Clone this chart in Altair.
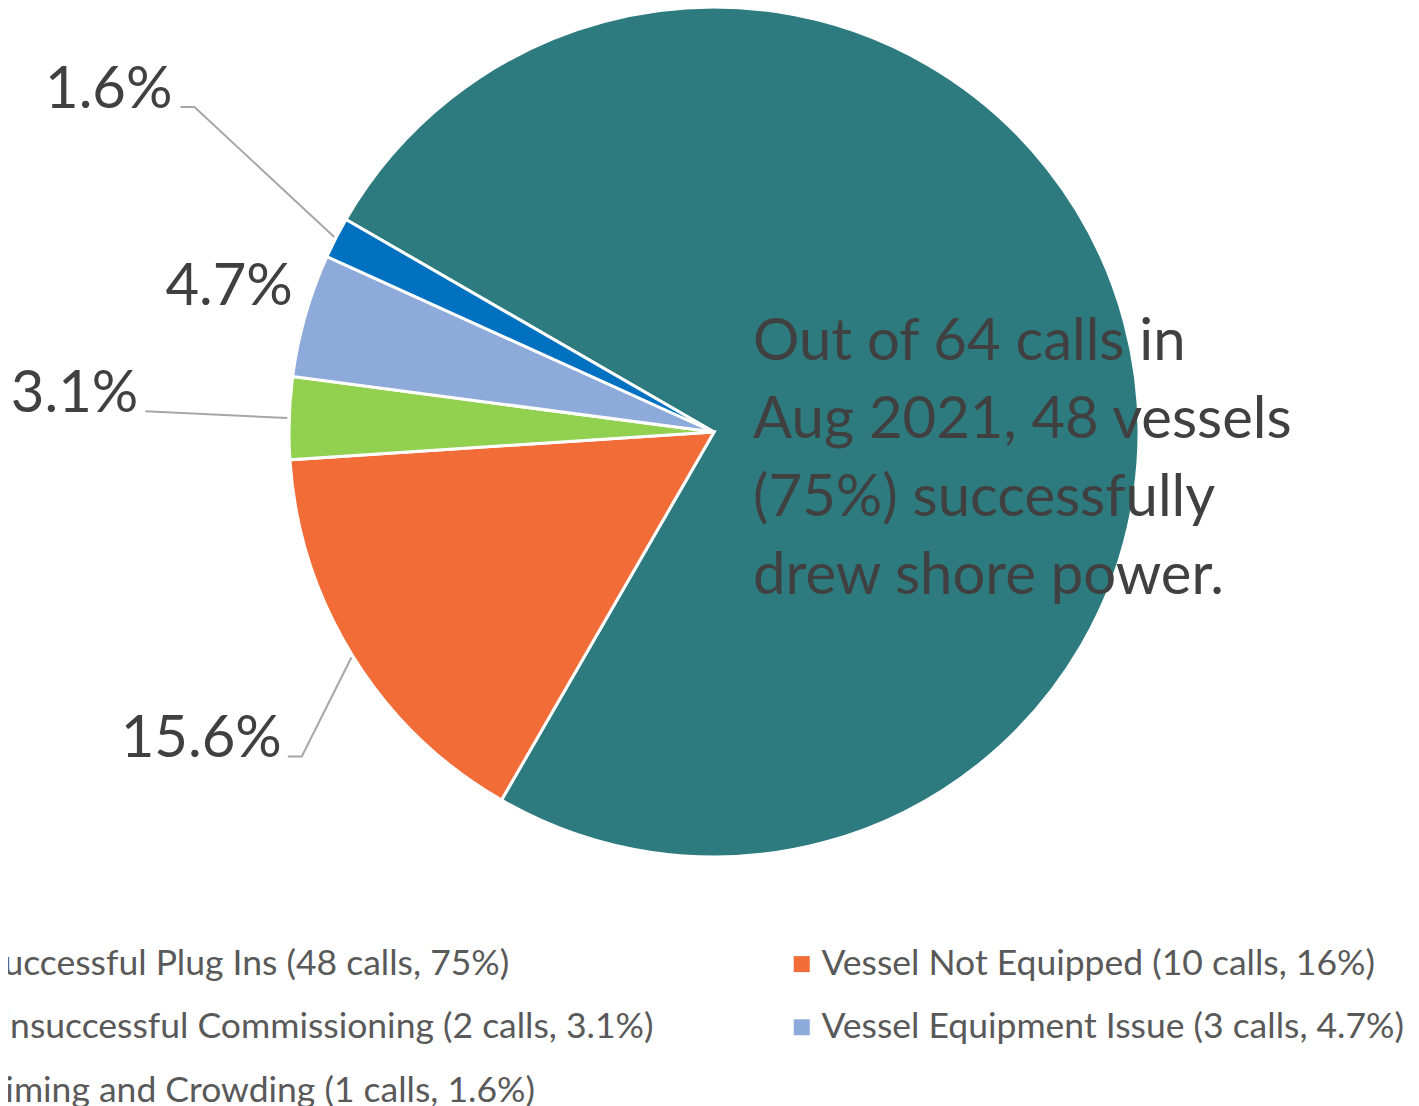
import math
import altair as alt
import pandas as pd

# ---- data ----
categories = [
    "Successful Plug Ins",
    "Vessel Not Equipped",
    "Unsuccessful Commissioning",
    "Vessel Equipment Issue",
    "Timing and Crowding",
]
calls = [48, 10, 2, 3, 1]
legend_pct = ["75%", "16%", "3.1%", "4.7%", "1.6%"]
colors = ["#2D7B7F", "#F16C37", "#92D050", "#8EAADB", "#0070C0"]
note_lines = [
    "Out of 64 calls in",
    "Aug 2021, 48 vessels",
    "(75%) successfully",
    "drew shore power.",
]
labelled = ["Vessel Not Equipped", "Unsuccessful Commissioning",
            "Vessel Equipment Issue", "Timing and Crowding"]
# legend reads row by row in the reference; Vega fills columns first
legend_order = [0, 2, 4, 1, 3]

# ---- layout (not data) ----
W, H = 1394, 848
CX, CY = W / 2, H / 2
R = 425
START = math.radians(300)
FONT = "Lato"
label_pos = {
    "Timing and Crowding": (631, 3.7),
    "Vessel Equipment Issue": (440, 0.9),
    "Unsuccessful Commissioning": (576, 0.1),
    "Vessel Not Equipped": (541, -5.1),
}
leaders = {
    "Timing and Crowding": (8, 22),
    "Unsuccessful Commissioning": (7, 7),
    "Vessel Not Equipped": (6, 20),
}

total = sum(calls)
legend_labels = [f"{c} ({n} calls, {p})" for c, n, p in zip(categories, calls, legend_pct)]
df = pd.DataFrame({"idx": range(len(categories)), "category": categories,
                   "calls": calls, "legend": legend_labels})

cum = 0
mids = {}
for c, n in zip(categories, calls):
    mids[c] = START + 2 * math.pi * (cum + n / 2) / total
    cum += n

def polar(r, a):
    return CX + r * math.sin(a), CY - r * math.cos(a)

lab_rows, line_rows = [], []
for c, n in zip(categories, calls):
    if c not in labelled:
        continue
    r, sh = label_pos[c]
    ax, ay = polar(r, mids[c] + math.radians(sh))
    lab_rows.append({"category": c, "x": ax, "y": ay, "text": f"{100 * n / total:.1f}%"})
    if c in leaders:
        gap, elb = leaders[c]
        ex, ey = polar(R + 2, mids[c])
        pts = [(ax + gap, ay - 1), (ax + elb, ay - 1), (ex, ey)]
        for i, (px, py) in enumerate(pts):
            line_rows.append({"category": c, "seq": i, "x": px, "y": py})
labels_df = pd.DataFrame(lab_rows)
lines_df = pd.DataFrame(line_rows)

dom = [legend_labels[i] for i in legend_order]
rng = [colors[i] for i in legend_order]

pie = alt.Chart(df).mark_arc(outerRadius=R, stroke="white", strokeWidth=3).encode(
    theta=alt.Theta("calls:Q", stack=True,
                    scale=alt.Scale(range=[START, START + 2 * math.pi])),
    order=alt.Order("idx:Q", sort="ascending"),
    color=alt.Color(
        "legend:N",
        scale=alt.Scale(domain=dom, range=rng),
        legend=alt.Legend(
            orient="none", legendX=-70, legendY=938, columns=2, title=None,
            symbolType="square", symbolSize=256, symbolStrokeWidth=0, symbolOpacity=1,
            labelFont=FONT, labelFontSize=35.5, labelColor="#595959", labelLimit=1200,
            labelOffset=2, rowPadding=26.5, columnPadding=130, padding=0,
            gridAlign="each",
        ),
    ),
)

leader = alt.Chart(lines_df).mark_line(color="#A6A6A6", strokeWidth=2).encode(
    x=alt.X("x:Q", scale=None, axis=None),
    y=alt.Y("y:Q", scale=None, axis=None),
    detail="category:N",
    order=alt.Order("seq:Q"),
)

pct = alt.Chart(labels_df).mark_text(
    align="right", baseline="alphabetic", font=FONT, fontSize=58, color="#404040"
).encode(
    x=alt.X("x:Q", scale=None, axis=None),
    y=alt.Y("y:Q", scale=None, axis=None),
    text="text:N",
)

note = alt.Chart(pd.DataFrame({"k": [0]})).mark_text(
    align="left", baseline="alphabetic", font=FONT, fontSize=58, color="#404040",
    lineHeight=78, text=note_lines,
).encode(x=alt.value(736), y=alt.value(352))

chart = alt.layer(pie, leader, pct, note).properties(
    width=W, height=H,
    autosize=alt.AutoSizeParams(type="none"),
    padding={"left": 9, "top": 0, "right": 0, "bottom": 250},
).configure_view(stroke=None)

chart.save("out.html", embed_options={"renderer": "svg", "actions": False})
